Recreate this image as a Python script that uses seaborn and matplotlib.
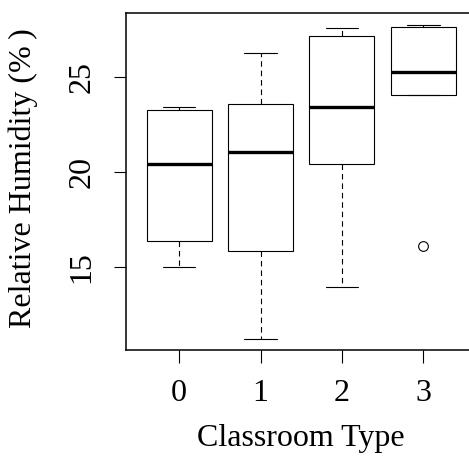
import matplotlib
matplotlib.use("Agg")
import matplotlib.pyplot as plt
import seaborn as sns
import pandas as pd

# Relative humidity readings per classroom type
classroom_types = ["0", "1", "2", "3"]
rh_type0 = [15.02, 16.37, 20.40, 23.25, 23.42]
rh_type1 = [11.23, 15.86, 21.07, 23.60, 26.26]
rh_type2 = [13.96, 20.40, 23.42, 27.16, 27.58]
rh_type3 = [16.10, 24.05, 24.05, 25.25, 27.65, 27.65, 27.72]

groups = [rh_type0, rh_type1, rh_type2, rh_type3]
df = pd.DataFrame({
    "type": [t for t, g in zip(classroom_types, groups) for _ in g],
    "rh": [v for g in groups for v in g],
})

sns.set_style("ticks")
plt.rcParams["font.family"] = ["Liberation Serif", "DejaVu Serif"]
plt.rcParams["text.color"] = "black"
plt.rcParams["axes.labelcolor"] = "black"
plt.rcParams["xtick.color"] = "black"
plt.rcParams["ytick.color"] = "black"

fig = plt.figure(figsize=(4.69, 4.66), dpi=100)
ax = fig.add_axes([0.2676, 0.2489, 0.7495, 0.7225])

sns.boxplot(
    data=df, x="type", y="rh", order=classroom_types, ax=ax,
    color="white", linecolor="black", linewidth=0.8, width=0.8,
    whis=1.5,
    whiskerprops=dict(linestyle=(0, (5, 3.5)), linewidth=0.8),
    capprops=dict(linewidth=0.8),
    medianprops=dict(linewidth=2.4, color="black"),
    flierprops=dict(marker="o", markerfacecolor="white",
                    markeredgecolor="black", markersize=7,
                    markeredgewidth=0.8),
)

ax.set_xlim(-0.66, 3.66)
ax.set_ylim(10.63, 28.35)
ax.set_yticks([15, 20, 25])
ax.set_yticklabels(["15", "20", "25"], rotation=90, va="center")

for side in ["left", "top", "bottom"]:
    ax.spines[side].set_visible(True)
    ax.spines[side].set_linewidth(1.1)
    ax.spines[side].set_color("black")
ax.spines["right"].set_visible(False)

ax.tick_params(axis="both", direction="out", length=9, width=0.8,
               pad=12, labelsize=23, colors="black")

ax.set_xlabel("Classroom Type", fontsize=23)
ax.set_ylabel("Relative Humidity (%\u2009)", fontsize=23)
ax.xaxis.label.set_va("center")
ax.yaxis.label.set_va("center")
ax.xaxis.set_label_coords(0.499, -0.262)
ax.yaxis.set_label_coords(-0.292, 0.512)

fig.savefig("out.png", dpi=100, facecolor="white")
